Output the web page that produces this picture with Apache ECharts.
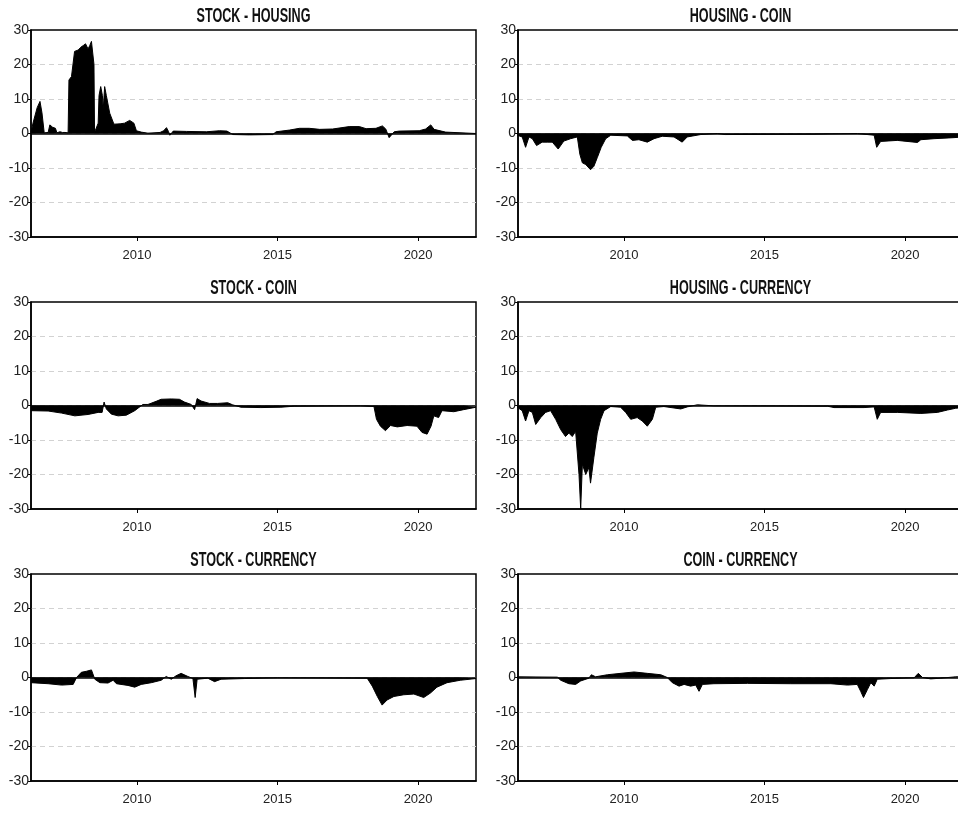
<!DOCTYPE html>
<html>
<head>
<meta charset="utf-8">
<script src="https://cdn.jsdelivr.net/npm/echarts@6/dist/echarts.min.js"></script>
<style>
  html, body { margin: 0; padding: 0; background: #fff; }
  #chart { width: 958px; height: 814px; }
</style>
</head>
<body>
<div id="chart"></div>
<script>
// values, x in fractional years
const shYears = [2006.23, 2006.30, 2006.45, 2006.55, 2006.62, 2006.70, 2006.84, 2006.90, 2007.00, 2007.10,
  2007.15, 2007.26, 2007.35, 2007.44, 2007.55, 2007.58, 2007.67, 2007.78, 2007.85, 2007.91,
  2008.00, 2008.09, 2008.17, 2008.26, 2008.32, 2008.38, 2008.44, 2008.47, 2008.49, 2008.56,
  2008.62, 2008.65, 2008.71, 2008.77, 2008.80, 2008.85, 2008.91, 2009.03, 2009.18, 2009.40,
  2009.56, 2009.74, 2009.89, 2009.98, 2010.15, 2010.39, 2010.82, 2010.95, 2011.05, 2011.12,
  2011.17, 2011.29, 2011.76, 2012.47, 2012.94, 2013.20, 2013.41, 2014.00, 2014.83, 2014.95,
  2015.43, 2015.78, 2016.13, 2016.50, 2016.96, 2017.55, 2017.91, 2018.15, 2018.50, 2018.73,
  2018.85, 2018.97, 2019.15, 2019.33, 2020.04, 2020.27, 2020.45, 2020.57, 2020.98, 2021.04,
  2022.06];
const shValues = [0.3, 3, 7.5, 9.3, 6, 0.2, 0.3, 2.5, 1.8, 1.5,
  0.2, 0.5, 0.3, 0.3, 0.2, 15.5, 16.5, 23.8, 23.5, 24.2,
  25, 25.5, 26, 24.5, 25.5, 26.7, 27, 20, 0.3, 0.5,
  3, 11, 13.6, 11, 7, 13.6, 11, 5.9, 2.7, 2.8,
  3, 3.8, 3, 0.8, 0.4, 0.1, 0.3, 0.8, 1.7, 0.6,
  -0.5, 0.7, 0.6, 0.5, 0.8, 0.7, -0.3, -0.4, -0.3, 0.5,
  1, 1.5, 1.5, 1.2, 1.3, 2, 2, 1.4, 1.5, 2.2,
  1.3, -1.2, 0.5, 0.7, 0.8, 1.3, 2.5, 1.2, 0.4, 0,
  0];

const hcYears = [2006.20, 2006.38, 2006.50, 2006.62, 2006.74, 2006.89, 2007.09, 2007.27, 2007.45, 2007.66,
  2007.86, 2008.10, 2008.34, 2008.43, 2008.52, 2008.64, 2008.81, 2008.93, 2009.05, 2009.19,
  2009.35, 2009.53, 2010.12, 2010.30, 2010.53, 2010.83, 2011.07, 2011.36, 2011.78, 2012.07,
  2012.25, 2012.73, 2013.32, 2013.60, 2016.76, 2018.30, 2018.90, 2018.99, 2019.13, 2019.72,
  2020.44, 2020.56, 2021.03, 2021.74, 2022.06];
const hcValues = [-0.5, -1, -4, -1, -1.5, -3.5, -2.5, -2.5, -2.5, -4.5,
  -2.2, -1.5, -1, -6, -8.5, -9, -10.5, -9.5, -7, -4,
  -1.5, -0.5, -0.7, -2, -1.8, -2.5, -1.5, -0.8, -1, -2.5,
  -1, -0.3, 0, -0.3, -0.2, 0, -0.5, -4, -2.3, -2,
  -2.6, -1.8, -1.5, -1.2, -1];

const scYears = [2006.23, 2006.84, 2007.32, 2007.79, 2008.26, 2008.62, 2008.76, 2008.83, 2008.91, 2009.09,
  2009.33, 2009.62, 2009.92, 2010.21, 2010.39, 2010.68, 2010.86, 2011.22, 2011.51, 2011.69,
  2011.93, 2012.05, 2012.14, 2012.28, 2012.58, 2012.87, 2013.23, 2013.40, 2013.70, 2014.41,
  2015.12, 2015.59, 2017.95, 2018.43, 2018.52, 2018.66, 2018.84, 2019.02, 2019.26, 2019.61,
  2019.96, 2020.14, 2020.32, 2020.46, 2020.56, 2020.73, 2020.85, 2021.27, 2021.62, 2022.06];
const scValues = [-1.5, -1.6, -2.2, -3, -2.6, -2, -2, 1, -1, -2.5,
  -3, -2.8, -1.5, 0.3, 0.3, 1.2, 1.8, 1.9, 1.8, 1,
  0.3, -1.2, 2, 1.3, 0.6, 0.6, 0.8, 0.2, -0.5, -0.6,
  -0.5, -0.2, -0.1, -0.3, -4, -6, -7.3, -5.8, -6.2, -5.8,
  -6, -7.8, -8.3, -6, -3, -3.5, -1.5, -1.8, -1.2, -0.5];

const hcuYears = [2006.20, 2006.38, 2006.50, 2006.62, 2006.74, 2006.86, 2007.04, 2007.21, 2007.39, 2007.57,
  2007.75, 2007.92, 2008.04, 2008.16, 2008.28, 2008.40, 2008.46, 2008.52, 2008.64, 2008.75,
  2008.81, 2008.93, 2009.05, 2009.17, 2009.29, 2009.53, 2009.88, 2010.06, 2010.24, 2010.47,
  2010.65, 2010.83, 2011.01, 2011.13, 2011.42, 2012.02, 2012.25, 2012.61, 2013.20, 2017.24,
  2017.47, 2018.54, 2018.90, 2019.01, 2019.13, 2019.73, 2020.56, 2021.15, 2021.51, 2021.80,
  2022.06];
const hcuValues = [-0.5, -1.5, -4.5, -1.5, -2, -5.5, -3.5, -2, -1.5, -4,
  -7, -9, -8, -9, -7.5, -20, -30, -17, -20, -18,
  -22.5, -15, -8, -4, -1.5, -0.3, -0.5, -2, -4, -3.5,
  -4.5, -6, -4, -0.5, -0.3, -1, -0.4, 0.2, -0.1, -0.2,
  -0.6, -0.6, -0.4, -4, -2, -2, -2.3, -2, -1.3, -0.8,
  -0.6];

const scuYears = [2006.23, 2006.84, 2007.32, 2007.73, 2007.85, 2008.02, 2008.20, 2008.38, 2008.50, 2008.68,
  2008.97, 2009.15, 2009.27, 2009.68, 2009.92, 2010.15, 2010.51, 2010.86, 2011.04, 2011.22,
  2011.39, 2011.57, 2011.81, 2011.99, 2012.07, 2012.14, 2012.52, 2012.76, 2012.99, 2013.82,
  2015.00, 2018.19, 2018.37, 2018.55, 2018.72, 2018.90, 2019.14, 2019.49, 2019.85, 2020.20,
  2020.44, 2020.67, 2021.03, 2021.50, 2022.06];
const scuValues = [-1.5, -1.8, -2.2, -2, 0, 1.5, 1.8, 2.2, -0.5, -1.5,
  -1.6, -0.8, -1.8, -2.3, -2.8, -2, -1.5, -0.8, 0.3, -0.5,
  0.5, 1.2, 0.3, -0.3, -5.8, -0.5, -0.2, -1.2, -0.5, -0.3,
  -0.1, -0.2, -2.5, -5.5, -8, -6.5, -5.5, -5, -4.8, -5.8,
  -4.5, -2.8, -1.5, -0.8, -0.3];

const ccuYears = [2006.20, 2007.63, 2007.75, 2008.04, 2008.28, 2008.46, 2008.75, 2008.84, 2008.99, 2009.41,
  2010.00, 2010.36, 2010.83, 2011.31, 2011.54, 2011.72, 2011.96, 2012.14, 2012.37, 2012.55,
  2012.67, 2012.79, 2013.20, 2014.39, 2015.93, 2017.36, 2017.95, 2018.30, 2018.42, 2018.52,
  2018.66, 2018.78, 2018.90, 2019.01, 2019.49, 2020.32, 2020.47, 2020.62, 2020.91, 2021.27,
  2021.80, 2022.06];
const ccuValues = [0.2, 0.1, -0.8, -1.8, -2, -1, -0.2, 0.8, 0.2, 0.8,
  1.3, 1.6, 1.2, 0.8, 0, -1.5, -2.5, -2, -2.5, -2.2,
  -4, -2, -1.8, -1.7, -1.8, -1.8, -2.2, -2, -4, -5.8,
  -3.5, -1.5, -2.5, -0.5, -0.3, -0.1, 1.2, 0, -0.4, -0.2,
  0.2, 0.2];

const titles = ["STOCK - HOUSING", "HOUSING - COIN", "STOCK - COIN",
  "HOUSING - CURRENCY", "STOCK - CURRENCY", "COIN - CURRENCY"];
const yearsList = [shYears, hcYears, scYears, hcuYears, scuYears, ccuYears];
const valuesList = [shValues, hcValues, scValues, hcuValues, scuValues, ccuValues];
const xTicks = [2010, 2015, 2020];

// layout (px) - right column runs past the window edge like the original
const LEFTS = [31, 518];
const TOPS = [30, 302, 574];
const W = 445;
const H = 207;
const FONT = '"Liberation Sans", Arial, sans-serif';

const grids = [], xAxes = [], yAxes = [], series = [], graphics = [];
titles.forEach((title, i) => {
  const left = LEFTS[i % 2];
  const top = TOPS[Math.floor(i / 2)];
  grids.push({
    left, top, width: W, height: H, outerBoundsMode: "none", containLabel: false,
    show: true, borderColor: "#000", borderWidth: 1.5, backgroundColor: "transparent",
  });
  xAxes.push({
    gridIndex: i, type: "value", min: 2006.23, max: 2022.06,
    splitLine: { show: false },
    axisLine: { onZero: false, lineStyle: { color: "#000", width: 1.5 } },
    axisTick: { customValues: xTicks, length: 4, lineStyle: { color: "#000" } },
    axisLabel: {
      customValues: xTicks, margin: 12, color: "#222", fontSize: 13, fontFamily: FONT,
      formatter: (v) => String(v),
    },
  });
  yAxes.push({
    gridIndex: i, type: "value", min: -30, max: 30, interval: 10,
    axisLine: { show: true, lineStyle: { color: "#000", width: 1.5 } },
    axisTick: { show: true, length: 3, lineStyle: { color: "#000" } },
    axisLabel: { margin: 2, color: "#222", fontSize: 14, fontFamily: FONT },
    splitLine: {
      show: true, showMinLine: false, showMaxLine: false,
      lineStyle: { color: "#d2d2d2", type: [5, 4], width: 1 },
    },
  });
  series.push({
    type: "line", xAxisIndex: i, yAxisIndex: i,
    data: yearsList[i].map((y, k) => [y, valuesList[i][k]]),
    showSymbol: false, symbol: "none",
    lineStyle: { color: "#000", width: 1 },
    areaStyle: { color: "#000", opacity: 1, origin: 0 },
    markLine: {
      silent: true, symbol: "none", label: { show: false },
      lineStyle: { color: "#000", width: 1.5, type: "solid" },
      data: [{ yAxis: 0 }],
    },
  });
  graphics.push({
    type: "text", x: left + W / 2, y: top - 14, scaleX: 0.6,
    style: {
      text: title, fill: "#111", fontSize: 21, fontWeight: "bold", fontFamily: FONT,
      align: "center", verticalAlign: "middle",
    },
  });
});

const chart = echarts.init(document.getElementById("chart"));
chart.setOption({
  animation: false,
  backgroundColor: "#fff",
  grid: grids,
  xAxis: xAxes,
  yAxis: yAxes,
  series,
  graphic: graphics,
});
</script>
</body>
</html>
